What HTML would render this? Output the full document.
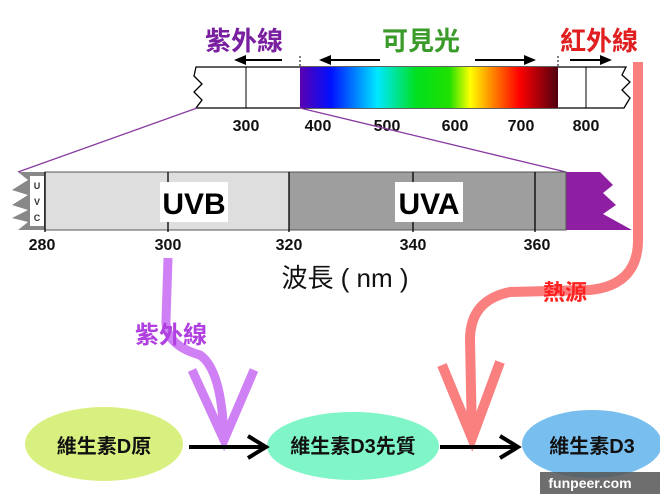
<!DOCTYPE html>
<html><head><meta charset="utf-8"><style>
body{margin:0;width:660px;height:494px;overflow:hidden;background:#fff;font-family:"Liberation Sans","Noto Sans CJK TC",sans-serif}
svg{position:absolute;left:0;top:0}
</style></head><body>
<svg width="660" height="494" viewBox="0 0 660 494" xmlns="http://www.w3.org/2000/svg">
<defs>
<linearGradient id="sp" x1="0" x2="1">
<stop offset="0" stop-color="#5a00b0"/><stop offset="0.12" stop-color="#0010ff"/><stop offset="0.3" stop-color="#00e8ff"/><stop offset="0.45" stop-color="#00e020"/><stop offset="0.58" stop-color="#20e000"/><stop offset="0.66" stop-color="#ffff00"/><stop offset="0.75" stop-color="#ff8000"/><stop offset="0.85" stop-color="#ff0000"/><stop offset="1" stop-color="#500010"/>
</linearGradient>
</defs>
<path d="M196,67 L626,67 L622,75 L630,82 L622,90 L630,98 L624,108 L196,108 L202,100 L194,92 L202,84 L194,76 Z" fill="#fff" stroke="#000" stroke-width="1.3"/>
<rect x="300" y="67" width="258" height="41" fill="url(#sp)"/>
<line x1="246" y1="67" x2="246" y2="108" stroke="#000"/>
<line x1="586" y1="67" x2="586" y2="108" stroke="#000"/>
<line x1="300" y1="56" x2="300" y2="66" stroke="#000" stroke-dasharray="2,2"/>
<line x1="558" y1="56" x2="558" y2="66" stroke="#000" stroke-dasharray="2,2"/>
<g font-weight="bold" font-size="16" text-anchor="middle" fill="#111">
<text x="246" y="131">300</text><text x="318" y="131">400</text><text x="387" y="131">500</text><text x="455" y="131">600</text><text x="521" y="131">700</text><text x="586" y="131">800</text>
</g>
<g stroke="#000" stroke-width="2"><line x1="240" y1="60" x2="282" y2="60"/><line x1="325" y1="60" x2="380" y2="60"/><line x1="475" y1="60" x2="530" y2="60"/><line x1="570" y1="60" x2="605" y2="60"/></g>
<g fill="#000"><path d="M234,60 L246,55 L246,65Z"/><path d="M319,60 L331,55 L331,65Z"/><path d="M536,60 L524,55 L524,65Z"/><path d="M612,60 L600,55 L600,65Z"/></g>
<g font-size="26" font-weight="bold" font-family="'Noto Sans CJK TC',sans-serif">
<text x="205" y="50" fill="#7a1fa0">紫外線</text>
<text x="382" y="50" fill="#3a9a2a">可見光</text>
<text x="560" y="50" fill="#e02020">紅外線</text>
</g>
<line x1="197" y1="108" x2="18" y2="172" stroke="#8a3aa0" stroke-width="1.3"/>
<line x1="300" y1="108" x2="566" y2="172" stroke="#8a3aa0" stroke-width="1.3"/>
<path d="M566,172 L600,172 L613,185 L603,193 L616,205 L603,214 L632,230 L566,230 Z" fill="#8e1fa2"/>
<path d="M18,172 L45,172 L45,230 L18,230 L28,222 L12,218 L28,210 L12,205 L28,195 L12,190 L28,180 Z" fill="#888"/>
<rect x="30" y="176" width="14" height="50" fill="#fff"/>
<rect x="45" y="172" width="244" height="58" fill="#dedede" stroke="#555" stroke-width="1"/>
<rect x="289" y="172" width="277" height="58" fill="#9e9e9e" stroke="#555" stroke-width="1"/>
<g stroke="#000" stroke-width="1.3"><line x1="45" y1="172" x2="45" y2="232"/><line x1="168" y1="172" x2="168" y2="232"/><line x1="289" y1="172" x2="289" y2="232"/><line x1="413" y1="172" x2="413" y2="232"/><line x1="535" y1="172" x2="535" y2="232"/></g>
<g font-size="9" font-weight="bold" fill="#333" text-anchor="middle"><text x="37" y="189">U</text><text x="37" y="205">V</text><text x="37" y="221">C</text></g>
<rect x="160" y="182" width="68" height="40" fill="#fff"/>
<rect x="395" y="182" width="68" height="40" fill="#fff"/>
<g font-size="30" font-weight="bold" text-anchor="middle" fill="#000"><text x="194" y="214">UVB</text><text x="429" y="214">UVA</text></g>
<g font-weight="bold" font-size="16" text-anchor="middle" fill="#111">
<text x="42" y="250">280</text><text x="168" y="250">300</text><text x="289" y="250">320</text><text x="413" y="250">340</text><text x="537" y="250">360</text>
</g>
<text x="345" y="287" font-size="26" text-anchor="middle" fill="#111" font-family="'Liberation Sans','Noto Sans CJK TC',sans-serif">波長 ( nm )</text>
<path d="M168,258 L166,320 Q165,345 200,355 Q222,370 224,440" fill="none" stroke="#d080f5" stroke-width="9"/>
<path d="M192,370 L224,440 L254,370" fill="none" stroke="#d080f5" stroke-width="9"/>
<text x="135" y="343" font-size="24" font-weight="bold" fill="#b040e0" font-family="'Noto Sans CJK TC',sans-serif">紫外線</text>
<path d="M638,62 L638,240 Q638,285 590,290 L510,292 Q470,300 470,340 L472,438" fill="none" stroke="#fa8080" stroke-width="10"/>
<path d="M442,365 L472,438 L500,362" fill="none" stroke="#fa8080" stroke-width="10"/>
<text x="543" y="300" font-size="22" font-weight="bold" fill="#ff2020" font-family="'Noto Sans CJK TC',sans-serif">熱源</text>
<ellipse cx="104" cy="444" rx="79" ry="37" fill="#d8f080"/>
<ellipse cx="353" cy="446" rx="86" ry="34" fill="#80f5c8"/>
<ellipse cx="592" cy="444" rx="70" ry="34" fill="#78bff0"/>
<g stroke="#000" stroke-width="4" fill="none"><line x1="189" y1="447" x2="264" y2="447"/><path d="M248,436 L266,447 L248,458"/><line x1="440" y1="447" x2="516" y2="447"/><path d="M500,436 L518,447 L500,458"/></g>
<g font-size="20" font-weight="bold" fill="#111" text-anchor="middle" font-family="'Liberation Sans','Noto Sans CJK TC',sans-serif">
<text x="104" y="453">維生素D原</text><text x="353" y="453">維生素D3先質</text><text x="592" y="453">維生素D3</text>
</g>
<rect x="540" y="472" width="120" height="22" fill="#555" opacity="0.85"/>
<text x="590" y="488" font-size="14" font-weight="bold" fill="#fff" text-anchor="middle">funpeer.com</text>
</svg>
</body></html>
